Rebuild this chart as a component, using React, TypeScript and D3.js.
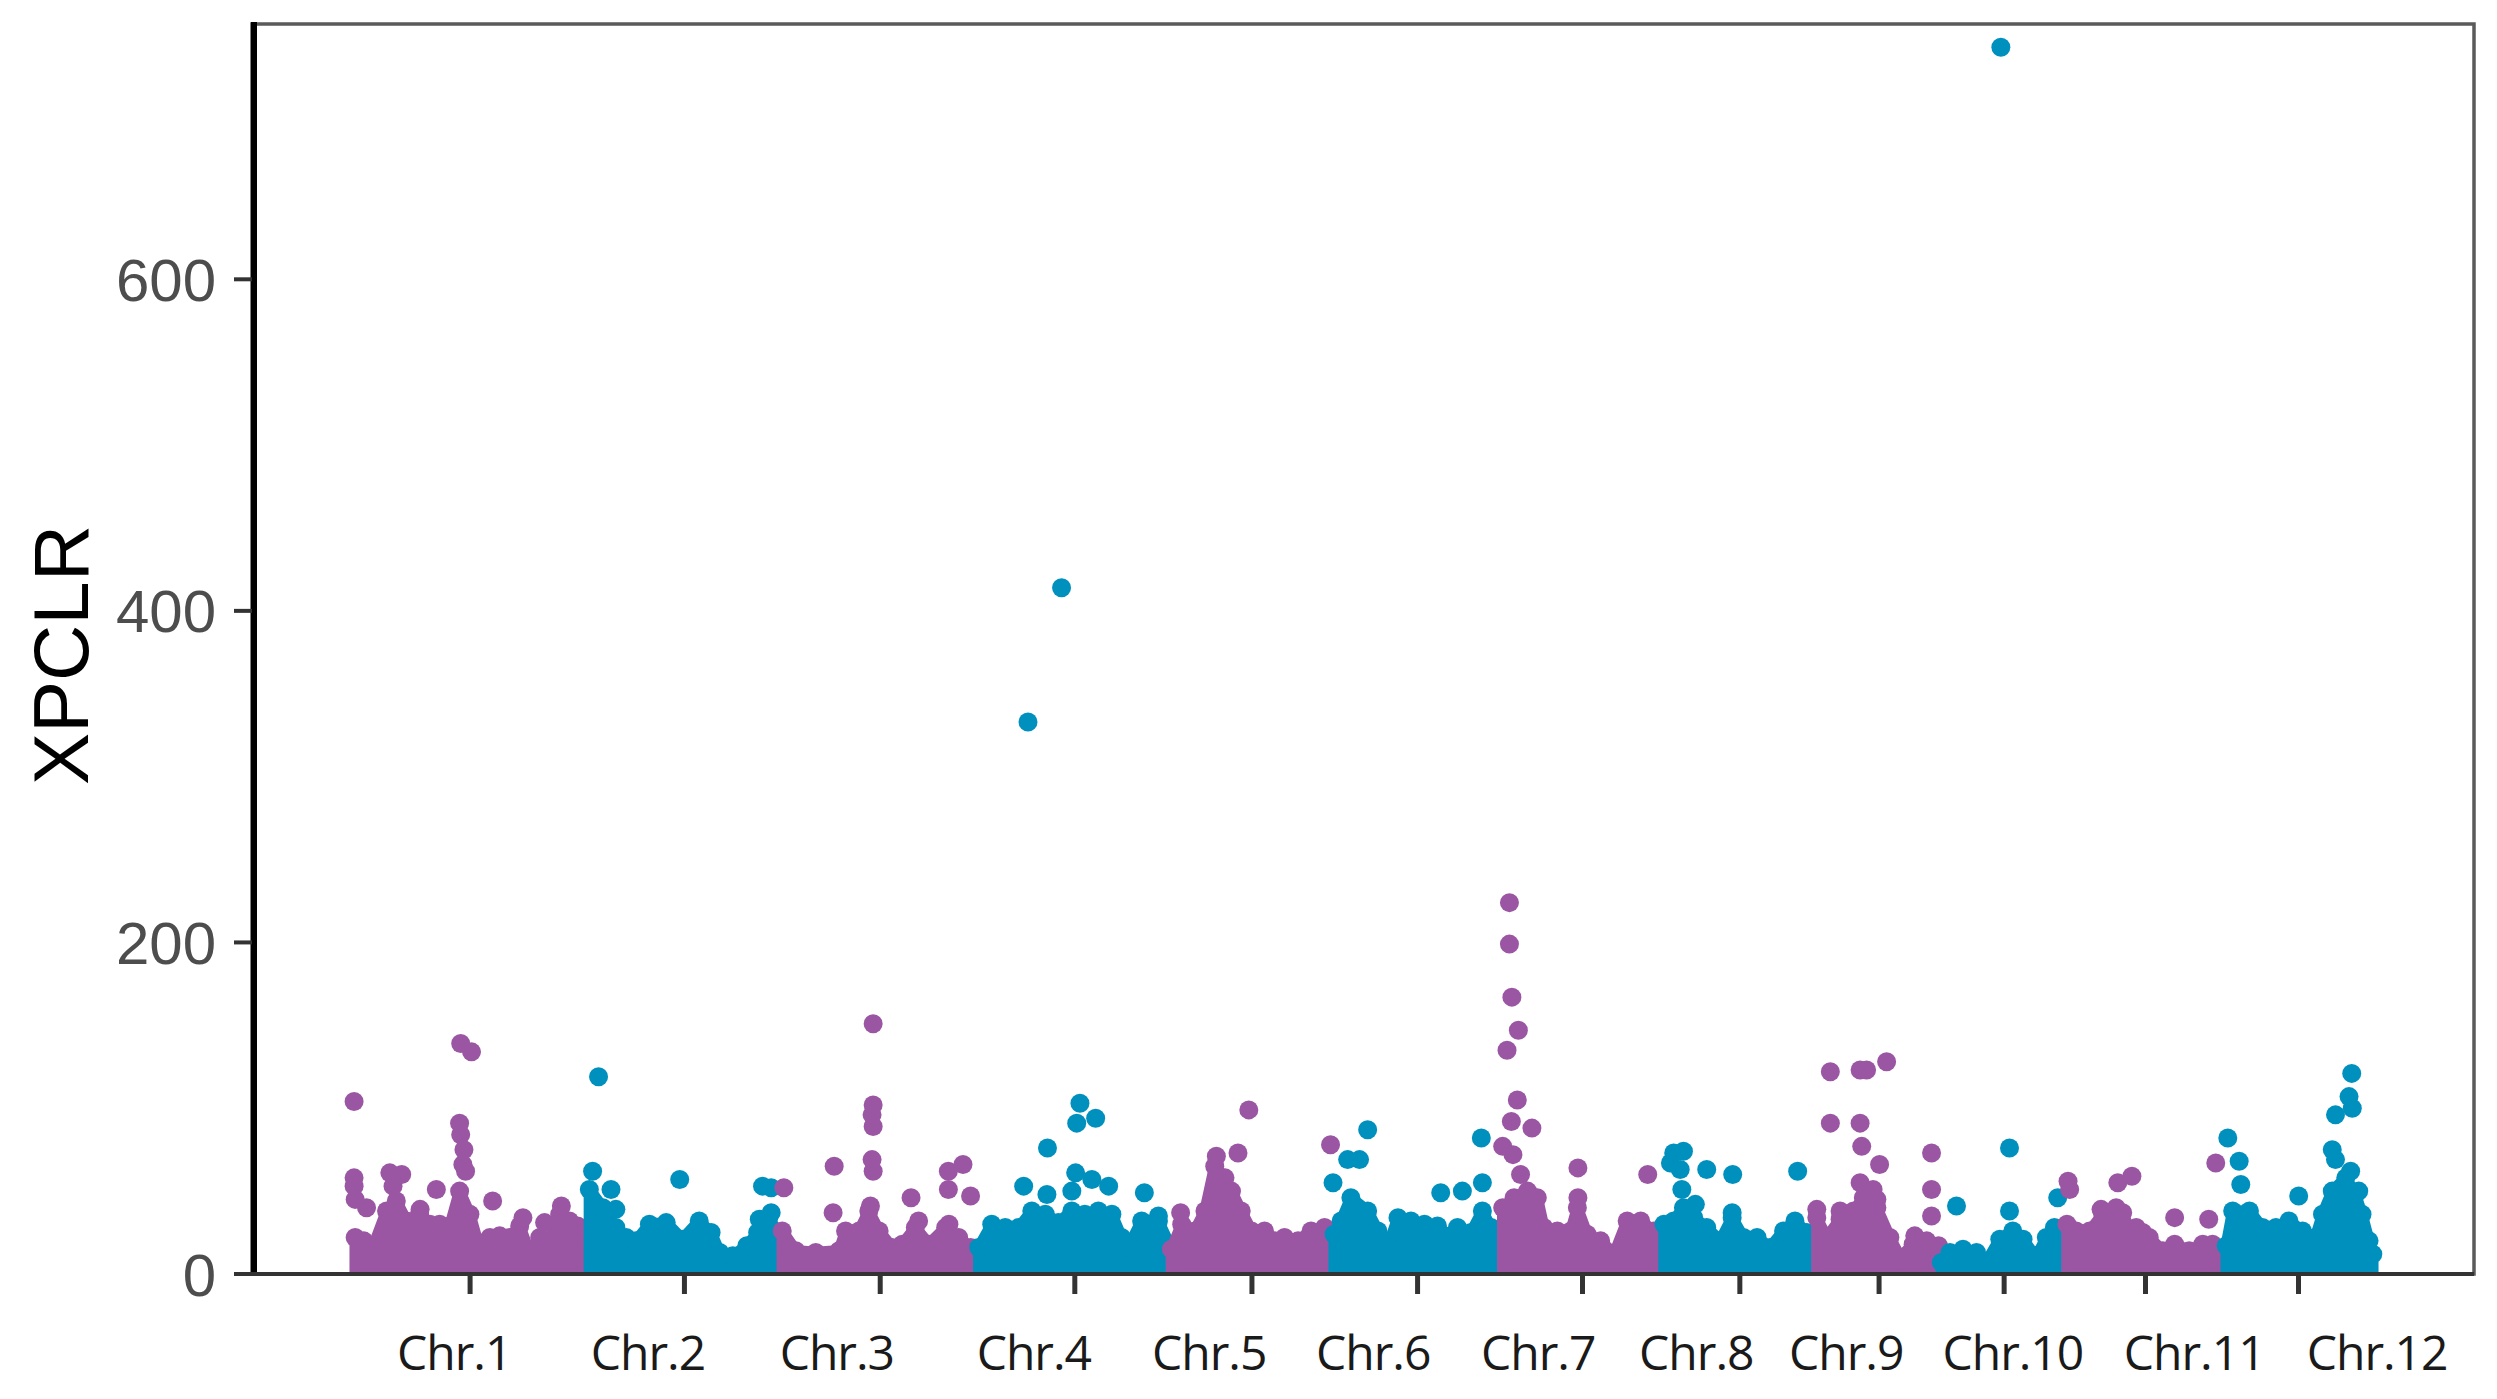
import React from 'react';
import * as d3 from 'd3';

// rice chromosomes, lengths in Mb
const chromosomes = ['Chr.1', 'Chr.2', 'Chr.3', 'Chr.4', 'Chr.5', 'Chr.6', 'Chr.7', 'Chr.8', 'Chr.9', 'Chr.10', 'Chr.11', 'Chr.12'];
const chrLengths = [43.27, 35.94, 36.41, 35.5, 29.96, 31.25, 29.7, 28.44, 23.01, 23.21, 29.02, 27.53];
// where the (pasted) chromosome labels sit, in cumulative Mb
const labelCenters = [18.7, 54.5, 89.4, 125.8, 158.2, 188.5, 219.0, 248.2, 275.9, 306.7, 340.2, 374.0];
const yTicks = [0, 200, 400, 600];

// top of the dense band of windows: [Mb within chromosome, XPCLR]
const chr1Band = [[0.4, 22], [2, 20], [3.8, 17], [6.2, 38], [8, 44], [9.9, 32], [12.3, 36], [14.2, 30], [16, 30], [17.9, 29], [19.7, 50], [21.6, 36], [23.4, 15], [25.3, 22], [27.1, 23], [28.9, 22], [30.8, 29], [32.6, 13], [34.5, 22], [36.3, 20], [38.2, 36], [40, 32], [41.5, 29], [43, 25]];
const chr2Band = [[0.4, 51], [2.9, 40], [5.3, 28], [7.2, 22], [9, 20], [11.5, 30], [14.6, 31], [17.6, 21], [20.7, 32], [22.9, 25], [24.5, 13], [26.9, 11], [29.5, 17], [31.5, 25], [33.5, 33], [35.5, 25]];
const chr3Band = [[0.1, 26], [2.6, 14], [6.3, 13], [10.6, 14], [11.8, 26], [14.3, 26], [16.1, 38], [18, 26], [20.4, 16], [22.3, 18], [24.7, 28], [27.2, 18], [30.3, 28], [32.7, 22], [34.9, 16], [36.2, 15]];
const chr4Band = [[0, 16], [2.4, 30], [4.9, 28], [7.4, 28], [9.8, 38], [12.3, 36], [14.7, 31], [17.2, 38], [19.6, 36], [22.1, 38], [24.6, 36], [26.4, 22], [27.6, 16], [30.1, 32], [33.2, 32], [35.2, 18]];
const chr5Band = [[0.1, 15], [2, 30], [4.4, 26], [6.3, 38], [8.1, 65], [10, 58], [11.2, 50], [13, 38], [14.9, 26], [17.3, 26], [19.2, 20], [21, 22], [23.5, 20], [25.9, 26], [28.4, 28], [29.9, 25]];
const chr6Band = [[0.2, 24], [1.5, 32], [3.3, 46], [6.4, 38], [8.3, 26], [10.1, 16], [12, 34], [14.4, 32], [16.9, 30], [19.3, 29], [20.6, 23], [23, 28], [25.5, 25], [27.6, 38], [29.2, 28], [31, 25]];
const chr7Band = [[0.1, 40], [2.2, 46], [4.7, 50], [6.5, 46], [7.7, 28], [10.2, 26], [12.7, 26], [13.9, 40], [15.7, 24], [18.2, 20], [20.7, 12], [23.1, 32], [25.6, 32], [28, 26], [29.6, 23]];
const chr8Band = [[0.2, 30], [2, 32], [3.8, 40], [5.7, 34], [8.1, 28], [10.6, 20], [12.8, 34], [14.9, 22], [17.4, 22], [19.8, 16], [22.3, 26], [24.4, 32], [26.6, 25], [28.2, 23]];
const chr9Band = [[0, 34], [1.8, 22], [4.3, 33], [6.8, 38], [8.6, 46], [11.1, 40], [13.5, 22], [15.4, 10], [17.8, 18], [20.3, 20], [22.5, 17]];
const chr10Band = [[0, 7], [1.6, 13], [4, 15], [6.5, 13], [8.3, 7], [10.8, 21], [13.2, 26], [15.1, 21], [17.5, 10], [19.4, 22], [20.9, 28], [23, 25]];
const chr11Band = [[0, 30], [1.7, 26], [4.2, 26], [6.6, 36], [9.1, 40], [10.3, 37], [11.6, 26], [12.8, 28], [14, 25], [15.2, 22], [17.7, 14], [19.9, 18], [22.6, 14], [25.1, 18], [26.9, 18], [28.8, 15]];
const chr12Band = [[0.4, 17], [1.6, 38], [4.7, 38], [7.1, 28], [9.6, 28], [12, 32], [14.5, 26], [16.9, 22], [18.2, 36], [20, 50], [22.5, 58], [24.3, 48], [25.5, 36], [26.8, 20], [27.5, 12]];

// windows standing above the band: [Mb within chromosome, XPCLR]
const chr1Peaks = [[0.2, 104], [0.2, 58], [0.2, 53], [0.4, 45], [2.5, 40], [6.8, 61], [9.0, 60], [7.4, 53], [12.4, 39], [15.4, 51], [19.9, 139], [21.9, 134], [19.7, 91], [19.9, 84], [20.5, 75], [20.3, 66], [20.8, 62], [25.8, 44], [31.4, 34], [35.4, 31], [38.5, 41]];
const chr2Peaks = [[2.1, 119], [1.0, 62], [4.4, 51], [5.3, 39], [17.1, 57], [32.4, 53], [34.0, 52], [34.0, 37], [31.8, 33]];
const chr3Peaks = [[0.4, 52], [16.9, 151], [16.9, 102], [16.7, 96], [16.9, 89], [16.7, 69], [16.9, 62], [9.7, 65], [9.5, 37], [23.9, 46], [30.8, 62], [33.5, 66], [30.8, 51], [34.9, 47], [16.4, 41], [25.3, 32], [30.9, 30]];
const chr4Peaks = [[9.1, 333], [15.3, 414], [12.7, 76], [8.3, 53], [12.6, 48], [18.7, 103], [18.1, 91], [21.6, 94], [17.9, 61], [20.9, 57], [24.0, 53], [17.2, 50], [30.6, 49], [33.2, 35]];
const chr5Peaks = [[14.4, 99], [12.4, 73], [8.4, 71], [1.8, 37], [29.5, 78]];
const chr6Peaks = [[6.4, 87], [0, 55], [2.7, 69], [4.9, 69], [19.9, 49], [23.9, 50], [27.6, 55], [27.4, 82]];
const chr7Peaks = [[1.35, 224], [1.35, 199], [1.8, 167], [3.0, 147], [0.9, 135], [2.8, 105], [1.7, 92], [5.5, 88], [0.1, 77], [2.0, 72], [14.0, 64], [26.9, 60], [3.4, 60], [14.0, 46]];
const chr8Peaks = [[2.0, 73], [3.8, 74], [1.4, 67], [3.2, 63], [8.1, 63], [12.9, 60], [24.9, 62], [3.5, 51], [6.0, 42], [12.8, 37]];
const chr9Peaks = [[2.5, 122], [8.0, 123], [9.2, 123], [12.9, 128], [2.5, 91], [8.0, 91], [8.3, 77], [11.6, 66], [21.2, 73], [21.2, 51], [21.2, 35], [0, 39], [4.3, 38], [8.0, 55], [10.4, 51], [11.1, 45], [18.1, 23]];
const chr10Peaks = [[11, 740], [2.8, 41], [12.6, 76], [12.6, 38], [21.5, 46]];
const chr11Peaks = [[0.2, 56], [0.5, 51], [9.4, 55], [12.0, 59], [6.3, 39], [19.9, 34], [26.2, 33], [27.5, 67]];
const chr12Peaks = [[0.7, 82], [2.8, 68], [3.1, 54], [13.8, 47], [23.6, 121], [23.1, 107], [23.7, 100], [20.6, 96], [20.0, 75], [23.4, 62], [24.9, 50], [20.6, 69]];

const bands = [chr1Band, chr2Band, chr3Band, chr4Band, chr5Band, chr6Band, chr7Band, chr8Band, chr9Band, chr10Band, chr11Band, chr12Band];
const peaks = [chr1Peaks, chr2Peaks, chr3Peaks, chr4Peaks, chr5Peaks, chr6Peaks, chr7Peaks, chr8Peaks, chr9Peaks, chr10Peaks, chr11Peaks, chr12Peaks];

const colors = ['#9B56A3', '#0090BD'];

export default function App() {
  const W = 2497;
  const H = 1399;
  const left = 252;
  const right = 2474;
  const top = 24;
  const bottom = 1274;
  const r = 9.5;

  const offsets = d3.cumsum([0, ...chrLengths.slice(0, -1)]);
  const total = d3.sum(chrLengths);
  const pad = total * 0.05;

  const x = d3.scaleLinear().domain([-pad, total + pad]).range([left, right]);
  const y = d3.scaleLinear().domain([0, 754]).range([bottom, top]);

  return (
    <svg width={W} height={H} style={{ position: 'absolute', left: 0, top: 0, background: '#fff' }}>
      <defs>
        <clipPath id="panel">
          <rect x={left} y={top} width={right - left} height={bottom - top} />
        </clipPath>
      </defs>

      <g clipPath="url(#panel)">
        {chromosomes.map((c, i) => {
          const off = offsets[i];
          const col = colors[i % 2];
          const area = d3
            .area<number[]>()
            .x((d) => x(off + d[0]))
            .y0(y(0))
            .y1((d) => y(d[1]))
            .curve(d3.curveLinear);
          return (
            <g key={c}>
              <path d={area(bands[i]) || ''} fill={col} stroke={col} strokeWidth={r * 1.2} strokeLinejoin="round" />
              {bands[i].map((p, j) => (
                <circle key={'b' + j} cx={x(off + p[0])} cy={y(p[1])} r={r} fill={col} />
              ))}
              {peaks[i].map((p, j) => (
                <circle key={j} cx={x(off + p[0])} cy={y(p[1])} r={r} fill={col} />
              ))}
            </g>
          );
        })}
      </g>

      {/* panel border */}
      <rect x={left} y={top} width={right - left} height={bottom - top} fill="none" stroke="#5a5a5a" strokeWidth={3.5} />
      <line x1={left + 2} x2={left + 2} y1={top - 2} y2={bottom + 2} stroke="#000" strokeWidth={6} />
      <line x1={left} x2={right} y1={bottom} y2={bottom} stroke="#333" strokeWidth={4} />

      {/* y axis */}
      {yTicks.map((t) => (
        <g key={t}>
          <line x1={left - 18} x2={left} y1={y(t)} y2={y(t)} stroke="#333" strokeWidth={4} />
          <text
            x={left - 36}
            y={y(t)}
            dy="0.36em"
            textAnchor="end"
            fontFamily="'Liberation Sans', Arial, sans-serif"
            fontSize={60}
            fill="#4d4d4d"
          >
            {t}
          </text>
        </g>
      ))}
      <text
        transform={`translate(88, 655) rotate(-90)`}
        textAnchor="middle"
        fontFamily="'Liberation Sans', Arial, sans-serif"
        fontSize={78}
        fill="#000"
      >
        XPCLR
      </text>

      {/* x axis ticks at chromosome centres */}
      {chromosomes.map((c, i) => {
        const cx = x(offsets[i] + chrLengths[i] / 2);
        return <line key={c} x1={cx} x2={cx} y1={bottom} y2={bottom + 20} stroke="#333" strokeWidth={5} />;
      })}
      {chromosomes.map((c, i) => (
        <text
          key={c}
          x={x(labelCenters[i])}
          y={1370}
          textAnchor="middle"
          fontFamily="'Open Sans', 'Noto Sans', sans-serif"
          fontSize={48}
          letterSpacing={-1}
          fill="#1a1a1a"
        >
          {c}
        </text>
      ))}
    </svg>
  );
}
